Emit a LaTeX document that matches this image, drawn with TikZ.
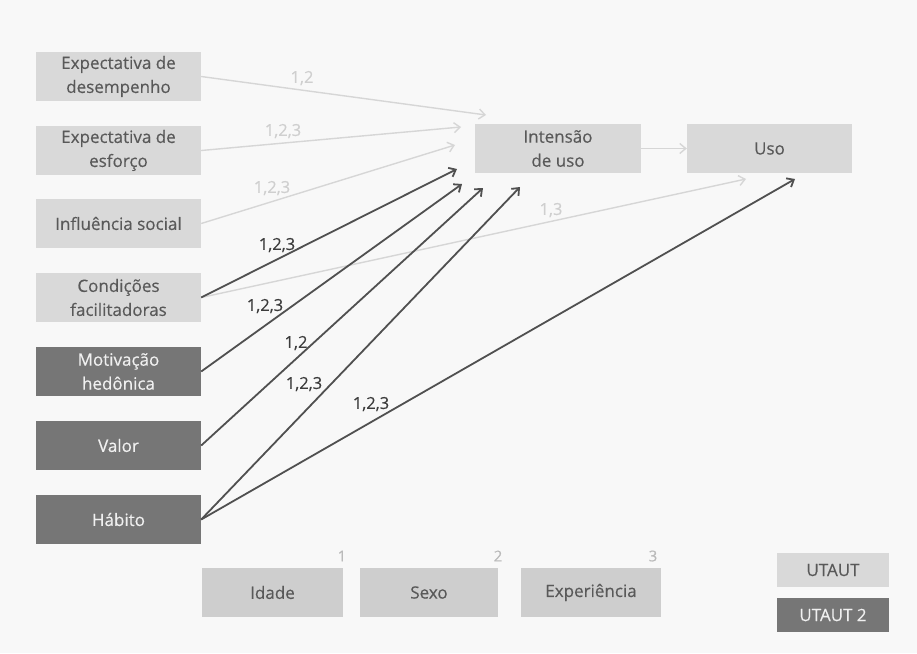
\documentclass[tikz,border=0pt]{standalone}
\usepackage{fontspec}
\setmainfont{Open Sans}[FakeBold=0.35]
\usetikzlibrary{arrows.meta}
\definecolor{bg}{HTML}{F8F8F8}
\definecolor{lbox}{HTML}{D9D9D9}
\definecolor{dbox}{HTML}{767676}
\definecolor{ltxt}{HTML}{595959}
\definecolor{larr}{HTML}{D6D6D6}
\definecolor{darr}{HTML}{505050}
\definecolor{llab}{HTML}{CFCFCF}
\definecolor{dlab}{HTML}{3C3C3C}
\tikzset{
  box/.style={rectangle, inner sep=0pt, minimum width=165pt, minimum height=49pt, align=center,
    font=\fontsize{17}{24}\selectfont},
  lightbox/.style={box, fill=lbox, text=ltxt},
  darkbox/.style={box, fill=dbox, text=white!94!black},
  modbox/.style={box, fill=lbox!95!black, text=ltxt},
  larrow/.style={draw=larr, line width=1.4pt, -{Straight Barb[length=6pt,width=10pt]}},
  darrow/.style={draw=darr, line width=1.8pt, -{Straight Barb[length=6pt,width=10pt]}},
  llabel/.style={text=llab, font=\fontsize{16.5}{18}\selectfont, inner sep=0pt},
  dlabel/.style={text=dlab, font=\fontsize{16.5}{18}\selectfont, inner sep=0pt},
  numlabel/.style={text=llab!90!black, font=\fontsize{15}{17}\selectfont, inner sep=0pt}
}
\begin{document}
\begin{tikzpicture}[x=1pt,y=-1pt]
\fill[bg] (0,0) rectangle (917,653);
\useasboundingbox (0,0) rectangle (917,653);
% left boxes
\node[lightbox] (ed) at (118.5,76.5) {Expectativa de\\desempenho};
\node[lightbox] (ee) at (118.5,150.5) {Expectativa de\\esforço};
\node[lightbox] (is) at (118.5,223.5) {Influência social};
\node[lightbox] (cf) at (118.5,297.5) {Condições\\facilitadoras};
\node[darkbox] (mh) at (118.5,371.5) {Motivação\\hedônica};
\node[darkbox] (va) at (118.5,445.5) {Valor};
\node[darkbox] (ha) at (118.5,519.5) {Hábito};
% right boxes
\node[lightbox, minimum width=166pt] (iu) at (558,148.5) {Intensão\\de uso};
\node[lightbox] (uso) at (769.5,148.5) {Uso};
% moderators
\node[modbox, minimum width=141pt] (idade) at (272.5,592.5) {Idade};
\node[modbox, minimum width=138pt] (sexo) at (429,592.5) {Sexo};
\node[modbox, minimum width=140pt] (expe) at (591,592.5) {Experiência};
\node[numlabel] (n1) at (342,556) {1};
\node[numlabel] (n2) at (498,556) {2};
\node[numlabel] (n3) at (653,556) {3};
% legend
\node[lightbox, minimum width=112pt, minimum height=34pt] (lg1) at (833,570) {UTAUT};
\node[darkbox, minimum width=112pt, minimum height=34pt] (lg2) at (833,615) {UTAUT 2};
% target coordinates
\coordinate (t1) at (486,115);
\coordinate (t2) at (461,127);
\coordinate (t3) at (455,145);
\coordinate (t4) at (746,179);
\coordinate (t5) at (457,169);
\coordinate (t6) at (462,184);
\coordinate (t7) at (483,188);
\coordinate (t8) at (520,187);
\coordinate (t9) at (795,179);
% light arrows
\draw[larrow] (ed.east) -- (t1);
\draw[larrow] (ee.east) -- (t2);
\draw[larrow] (is.east) -- (t3);
\draw[larrow] (cf.east) -- (t4);
\draw[larrow] (iu.east) -- (uso.west);
% dark arrows
\draw[darrow] (cf.east) -- (t5);
\draw[darrow] (mh.east) -- (t6);
\draw[darrow] (va.east) -- (t7);
\draw[darrow] (ha.east) -- (t8);
\draw[darrow] (ha.east) -- (t9);
% labels
\node[llabel] (l1) at (302,78) {1,2};
\node[llabel] (l2) at (283,131) {1,2,3};
\node[llabel] (l3) at (272,188) {1,2,3};
\node[llabel] (l4) at (551,210) {1,3};
\node[dlabel] (l5) at (277,245) {1,2,3};
\node[dlabel] (l6) at (265,306) {1,2,3};
\node[dlabel] (l7) at (296,343) {1,2};
\node[dlabel] (l8) at (304,384) {1,2,3};
\node[dlabel] (l9) at (371,404) {1,2,3};
\end{tikzpicture}
\end{document}
